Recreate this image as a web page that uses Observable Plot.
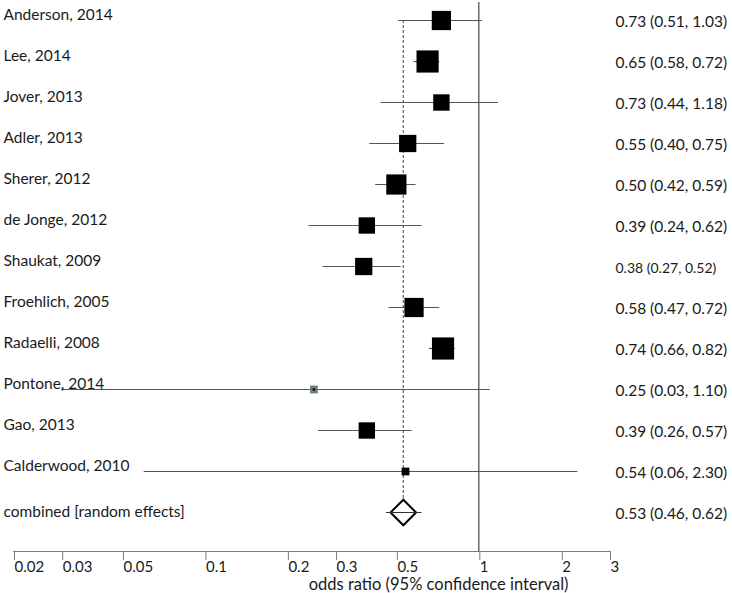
<!DOCTYPE html>
<html>
<head>
<meta charset="utf-8">
<script src="https://cdn.jsdelivr.net/npm/d3@7"></script>
<script src="https://cdn.jsdelivr.net/npm/@observablehq/plot@0.6"></script>
<style>
  html, body { margin: 0; padding: 0; background: #fff; }
  #chart svg { display: block; }
</style>
</head>
<body>
<div id="chart"></div>
<script>
// ---- data ----
const studies = ["Anderson, 2014", "Lee, 2014", "Jover, 2013", "Adler, 2013", "Sherer, 2012",
  "de Jonge, 2012", "Shaukat, 2009", "Froehlich, 2005", "Radaelli, 2008", "Pontone, 2014",
  "Gao, 2013", "Calderwood, 2010"];
const oddsRatio = [0.73, 0.65, 0.73, 0.55, 0.50, 0.39, 0.38, 0.58, 0.74, 0.25, 0.39, 0.54];
const ciLow     = [0.51, 0.58, 0.44, 0.40, 0.42, 0.24, 0.27, 0.47, 0.66, 0.03, 0.26, 0.06];
const ciHigh    = [1.03, 0.72, 1.18, 0.75, 0.59, 0.62, 0.52, 0.72, 0.82, 1.10, 0.57, 2.30];
const weights   = [9.8, 13.0, 7.1, 7.9, 10.8, 7.1, 7.9, 9.8, 13.0, 1.6, 7.1, 1.6];

const pooledLabel = "combined [random effects]";
const pooledOR = 0.53, pooledLow = 0.46, pooledHigh = 0.62;

const xTicks = [0.02, 0.03, 0.05, 0.1, 0.2, 0.3, 0.5, 1, 2, 3];
const xTitle = "odds ratio (95% confidence interval)";

// ---- tables ----
const rows = studies.map((s, i) => ({study: s, or: oddsRatio[i], lo: ciLow[i], hi: ciHigh[i], w: weights[i]}));
const pooled = [{study: pooledLabel, or: pooledOR, lo: pooledLow, hi: pooledHigh}];
const all = rows.concat(pooled);
const fmt = d3.format(".2f");
const label = d => `${fmt(d.or)} (${fmt(d.lo)}, ${fmt(d.hi)})`;

const font = "Lato, 'Open Sans', sans-serif";

const chart = Plot.plot({
  width: 732,
  height: 593,
  marginTop: 0,
  marginBottom: 42,
  marginLeft: 13,
  marginRight: 123,
  style: {fontFamily: font, fontSize: "15px", color: "#1a1a1a", background: "#fff"},
  x: {type: "log", domain: [0.02, 3], axis: null},
  y: {type: "point", domain: all.map(d => d.study), range: [15.5, 516], padding: 0, axis: null},
  r: {type: "sqrt", domain: [0, d3.max(weights)], range: [0, 12.5]},
  marks: [
    // axis line + ticks
    Plot.frame({anchor: "bottom", stroke: "#7a7a7a", strokeWidth: 1}),
    Plot.axisX({ticks: xTicks, tickFormat: d => String(d), tickSize: 9, tickPadding: 1,
      textAnchor: "start", dx: 1, stroke: "#7a7a7a", fill: "#1a1a1a", fontSize: 15, label: null}),
    Plot.text([xTitle], {frameAnchor: "bottom-right", textAnchor: "end", lineAnchor: "bottom",
      dx: -41, dy: 38, fill: "#1a1a1a", fontSize: 16.5}),
    // no-effect line
    Plot.ruleX([1], {stroke: "#444", strokeWidth: 1.2, insetTop: 2}),
    // pooled estimate dashed line
    Plot.ruleX([{x: pooledOR, y1: studies[0], y2: pooledLabel}],
      {x: "x", y1: "y1", y2: "y2", stroke: "#666", strokeWidth: 1.2, strokeDasharray: "3,2"}),
    // confidence intervals
    Plot.ruleY(rows, {y: "study", x1: "lo", x2: "hi", stroke: "#555", strokeWidth: 1.2}),
    // weighted boxes
    Plot.dot(rows, {x: "or", y: "study", r: "w", symbol: "square",
      fill: d => d.study.startsWith("Pontone") ? "#6e7c7c" : "#000", stroke: "none"}),
    Plot.dot(rows.filter(d => d.study.startsWith("Pontone")), {x: "or", y: "study", r: 1.3, fill: "#000"}),
    // pooled diamond
    Plot.dot(pooled, {x: "or", y: "study", symbol: "diamond2", r: 11.5, fill: "#fff", stroke: "#000", strokeWidth: 2}),
    Plot.ruleY(pooled, {y: "study", x1: "lo", x2: "hi", stroke: "#333", strokeWidth: 1.2}),
    // study labels (left)
    Plot.text(rows, {y: "study", text: "study", frameAnchor: "left", textAnchor: "start", dx: -10, dy: -5,
      fill: "#1a1a1a", fontSize: 15.5}),
    Plot.text(pooled, {y: "study", text: "study", frameAnchor: "left", textAnchor: "start", dx: -10, dy: 0,
      fill: "#1a1a1a", fontSize: 15.5}),
    // estimates (right)
    Plot.text(all, {y: "study", text: label, frameAnchor: "right", textAnchor: "start", dx: 6, dy: 2,
      fill: "#1a1a1a", fontSize: d => d.study.startsWith("Shaukat") ? 14 : 15.5})
  ]
});
document.getElementById("chart").appendChild(chart);
</script>
</body>
</html>
